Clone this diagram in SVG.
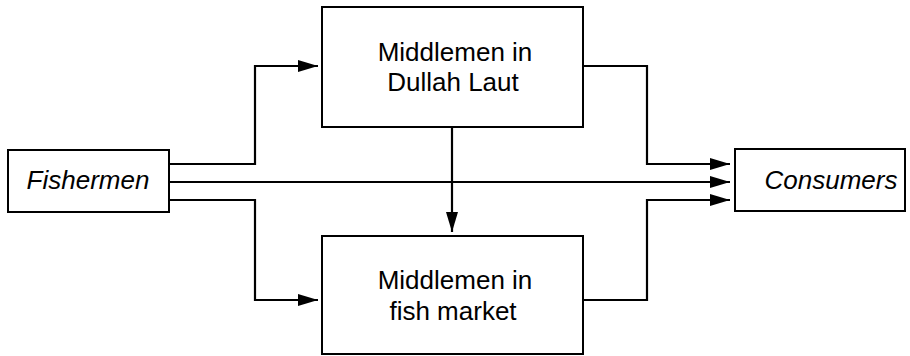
<svg xmlns="http://www.w3.org/2000/svg" width="910" height="356" viewBox="0 0 910 356">
<defs>
<marker id="ah" markerWidth="20" markerHeight="12" refX="20" refY="6" orient="auto" markerUnits="userSpaceOnUse">
<path d="M0,0 L20,6 L0,12 Z" fill="#000"/>
</marker>
<style>
.box{fill:#fff;stroke:#000;stroke-width:2}
.t{font-family:"Liberation Sans",Arial,sans-serif;font-size:26px;fill:#000;text-anchor:middle}
.i{font-style:italic}
.c{fill:none;stroke:#000;stroke-width:2.2}
</style>
</defs>
<rect width="910" height="356" fill="#fff"/>
<g id="connectors">
<path class="c" d="M169,164 H255 V66 H318" marker-end="url(#ah)"/>
<path class="c" d="M169,182 H730" marker-end="url(#ah)"/>
<path class="c" d="M169,200 H255 V300 H318" marker-end="url(#ah)"/>
<path class="c" d="M452,127 V232" marker-end="url(#ah)"/>
<path class="c" d="M583,66 H647 V164 H730" marker-end="url(#ah)"/>
<path class="c" d="M583,300 H647 V200 H730" marker-end="url(#ah)"/>
</g>
<g id="fishermen">
<rect class="box" x="8" y="150" width="161" height="62"/>
<text class="t i" x="88" y="189">Fishermen</text>
</g>
<g id="consumers">
<rect class="box" x="735" y="149" width="170" height="62"/>
<text class="t i" x="831" y="189">Consumers</text>
</g>
<g id="middlemen-dullah">
<rect class="box" x="322" y="7" width="261" height="120"/>
<text class="t" x="455" y="61">Middlemen in</text>
<text class="t" x="453" y="91">Dullah Laut</text>
</g>
<g id="middlemen-market">
<rect class="box" x="322" y="236" width="261" height="118"/>
<text class="t" x="455" y="289">Middlemen in</text>
<text class="t" x="453" y="320">fish market</text>
</g>
</svg>
